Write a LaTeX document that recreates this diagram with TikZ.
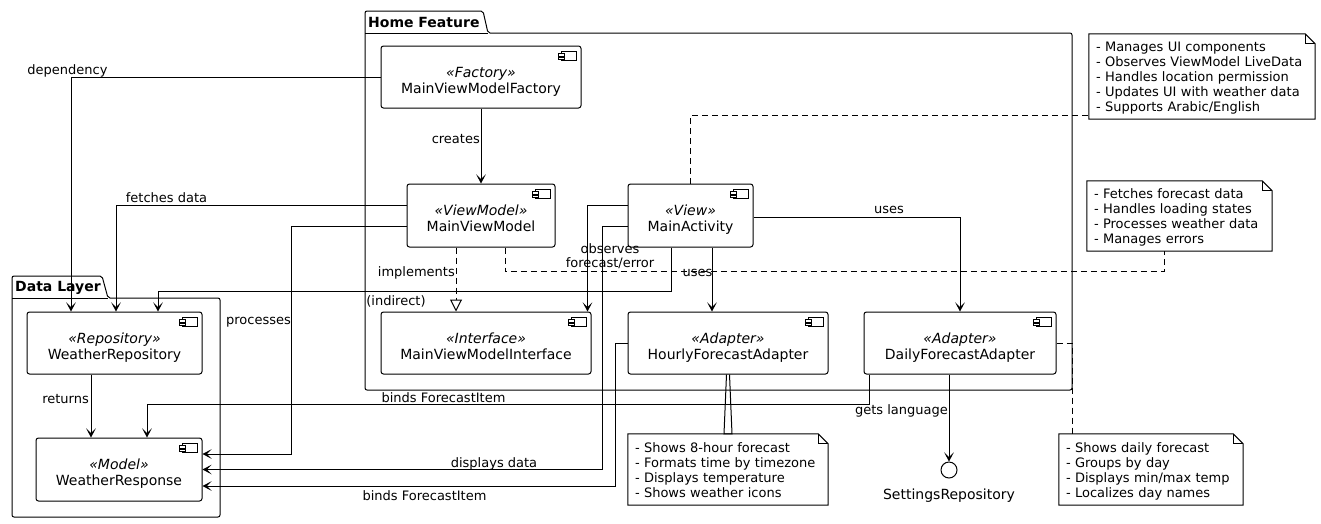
\documentclass[tikz,border=0pt]{standalone}
\usepackage{fontspec}
\setmainfont{DejaVu Sans}
\usetikzlibrary{arrows.meta}

\newcommand{\comptext}[2]{\raisebox{-5pt}[\height][\depth]{\begin{tabular}{@{}c@{}}\textit{«#1»}\\#2\end{tabular}}}
\newcommand{\notetext}[1]{\raisebox{-2pt}[\height][\depth]{\begin{tabular}{@{}l@{}}#1\end{tabular}}}

\begin{document}
\begin{tikzpicture}[x=1pt,y=-1pt]
	\tikzstyle{every node}+=[inner sep=0pt]
	\tikzstyle{comp}=[draw, line width=1pt, rounded corners=2.5pt, fill=white, font=\fontsize{14}{16}\selectfont]
	\tikzstyle{note}=[font=\fontsize{13}{15}\selectfont, align=left, inner xsep=7pt]
	\tikzstyle{lbl}=[font=\fontsize{13}{14}\selectfont, text height=9.5pt, text depth=2.5pt]
	\tikzstyle{arr}=[line width=1pt, -{Stealth[length=9pt,width=9.5pt,inset=4.5pt]}]
	\tikzstyle{dashln}=[line width=1pt, dash pattern=on 6pt off 4pt]
	\tikzstyle{pkgtitle}=[font=\fontsize{14}{16}\selectfont\bfseries]
	\useasboundingbox (0,0) rectangle (1321,523);
	% packages
	\draw [line width=1pt, rounded corners=2pt] (365,390) -- (365,11) -- (483,11) -- (488,33) -- (1072,33) -- (1072,390) -- cycle;
	\draw [line width=1pt] (365,33) -- (488,33);
	\node [pkgtitle, anchor=west] (homeT) at (368,22) {Home Feature};
	\draw [line width=1pt, rounded corners=2pt] (12,517) -- (12,276) -- (102,276) -- (108,298) -- (220,298) -- (220,517) -- cycle;
	\draw [line width=1pt] (12,298) -- (108,298);
	\node [pkgtitle, anchor=west] (dataT) at (15,288) {Data Layer};
	% components
	\node [comp, minimum width=200pt, minimum height=62pt] (fac) at (481,77) {\comptext{Factory}{MainViewModelFactory}};
	\node [comp, minimum width=148pt, minimum height=63pt] (vm) at (481,215.5) {\comptext{ViewModel}{MainViewModel}};
	\node [comp, minimum width=125pt, minimum height=63pt] (act) at (690.5,215.5) {\comptext{View}{MainActivity}};
	\node [comp, minimum width=210pt, minimum height=62pt] (iface) at (486,343) {\comptext{Interface}{MainViewModelInterface}};
	\node [comp, minimum width=200pt, minimum height=62pt] (hourly) at (728,343) {\comptext{Adapter}{HourlyForecastAdapter}};
	\node [comp, minimum width=192pt, minimum height=62pt] (daily) at (960,343) {\comptext{Adapter}{DailyForecastAdapter}};
	\node [comp, minimum width=175pt, minimum height=62pt] (repo) at (114.5,343) {\comptext{Repository}{WeatherRepository}};
	\node [comp, minimum width=166pt, minimum height=63pt] (resp) at (119,469.5) {\comptext{Model}{WeatherResponse}};
	\foreach \c in {fac,vm,act,iface,hourly,daily,repo,resp} {
		\draw [line width=0.8pt, fill=white] ([xshift=-20pt,yshift=-6pt]\c.north east) rectangle ([xshift=-5pt,yshift=-15pt]\c.north east);
		\draw [line width=0.8pt, fill=white] ([xshift=-23pt,yshift=-8pt]\c.north east) rectangle ([xshift=-17pt,yshift=-10.5pt]\c.north east);
		\draw [line width=0.8pt, fill=white] ([xshift=-23pt,yshift=-11.5pt]\c.north east) rectangle ([xshift=-17pt,yshift=-14pt]\c.north east);
	}
	\node [draw, circle, line width=1pt, minimum size=16pt, fill=white] (settings) at (949,470) {};
	\node [lbl, font=\fontsize{14}{16}\selectfont] (settingsT) at (949,496) {SettingsRepository};
	% notes
	\node [note, text width=212pt, minimum height=85pt] (n1) at (1202,76.5) {\notetext{- Manages UI components\\- Observes ViewModel LiveData\\- Handles location permission\\- Updates UI with weather data\\- Supports Arabic/English}};
	\node [note, text width=171pt, minimum height=70pt] (n2) at (1179.5,216) {\notetext{- Fetches forecast data\\- Handles loading states\\- Processes weather data\\- Manages errors}};
	\node [note, text width=186pt, minimum height=71pt] (n3) at (728,469.5) {\notetext{- Shows 8-hour forecast\\- Formats time by timezone\\- Displays temperature\\- Shows weather icons}};
	\node [note, text width=170pt, minimum height=71pt] (n4) at (1151,469.5) {\notetext{- Shows daily forecast\\- Groups by day\\- Displays min/max temp\\- Localizes day names}};
	\foreach \n in {n1,n2,n3,n4} {
		\draw [line width=1pt] (\n.north west) -- ([xshift=-10pt]\n.north east) -- ([yshift=-10pt]\n.north east) -- (\n.south east) -- (\n.south west) -- cycle;
		\draw [line width=1pt] ([xshift=-10pt]\n.north east) |- ([yshift=-10pt]\n.north east);
	}
	% connectors
	\draw [arr] (fac.west) -| ([xshift=-43.5pt]repo.north);
	\node [lbl] (lDep) at (67.5,70.5) {dependency};
	\draw [arr] (fac.south) -- (vm.north);
	\node [lbl, anchor=east] (lCre) at (480,139.5) {creates};
	\draw [arr] ([yshift=10.5pt]vm.west) -| ([xshift=1.5pt]repo.north);
	\node [lbl] (lFet) at (166.5,198.5) {fetches data};
	\draw [arr] ([yshift=-10.5pt]vm.west) -- ++(-115,0) |- ([yshift=15.5pt]resp.east);
	\node [lbl] (lPro) at (258.5,320.5) {processes};
	\draw [dashln, -{Triangle[open, length=12pt, width=12pt]}] ([xshift=-25pt]vm.south) -- ([xshift=-25pt]vm.south |- iface.north);
	\node [lbl, anchor=east] (lImp) at (455,272.5) {implements};
	\draw [dashln] ([xshift=24pt]vm.south) -- ++(0,24) -| ([xshift=-15.5pt]n2.south);
	\draw [arr] ([yshift=10.5pt]act.west) -| ([xshift=-4pt]iface.north east);
	\node [lbl, align=center, text height=, text depth=] (lObs) at (610,256) {observes\\forecast/error};
	\draw [arr] ([yshift=-10.5pt]act.west) -- ++(-25,0) |- (resp.east);
	\node [lbl] (lDis) at (494,463.5) {displays data};
	\draw [arr] ([xshift=-19.5pt]act.south) -- ++(0,44) -| ([xshift=43.5pt]repo.north);
	\node [lbl] (lInd) at (396,302) {(indirect)};
	\draw [arr] ([xshift=21.5pt]act.south) -- ([xshift=21.5pt]act.south |- hourly.north);
	\node [lbl] (lUse1) at (697.5,273) {uses};
	\draw [arr] ([yshift=-1.5pt]act.east) -| (daily.north);
	\node [lbl] (lUse2) at (889,209.5) {uses};
	\draw [dashln] (act.north) |- ([yshift=-38.5pt]n1.west);
	\draw [arr] (hourly.west) -- ++(-12,0) |- ([yshift=-16.5pt]resp.east);
	\node [lbl] (lBi1) at (424.5,496.5) {binds ForecastItem};
	\draw [arr] ([xshift=-91pt]daily.south) -- ++(0,30) -| ([xshift=28pt]resp.north);
	\node [lbl] (lBi2) at (443.5,398.5) {binds ForecastItem};
	\draw [arr] ([xshift=-11pt]daily.south) -- (settings.north);
	\node [lbl, anchor=east] (lGet) at (948,411) {gets language};
	\draw [dashln] (daily.east) -| ([xshift=-79pt]n4.north);
	\draw [line width=1pt] ([xshift=-1.5pt]hourly.south) -- ([xshift=-4pt]n3.north) -- ([xshift=4pt]n3.north) -- ([xshift=1.5pt]hourly.south);
	\draw [arr] ([xshift=-23.5pt]repo.south) -- ([xshift=-23.5pt]repo.south |- resp.north);
	\node [lbl, anchor=east] (lRet) at (89,399.5) {returns};
\end{tikzpicture}
\end{document}
